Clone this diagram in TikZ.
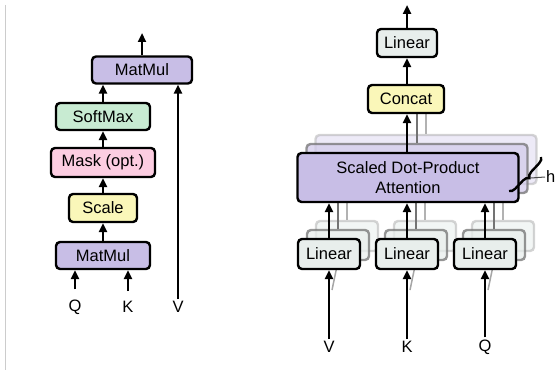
\documentclass[tikz,border=0pt]{standalone}
\usepackage{fontspec}
\setmainfont{Liberation Sans}
\usetikzlibrary{arrows.meta,decorations.pathreplacing}

\definecolor{mmpurple}{RGB}{200,190,230}
\definecolor{smgreen}{RGB}{200,235,210}
\definecolor{mkpink}{RGB}{252,205,225}
\definecolor{scyellow}{RGB}{250,247,185}
\definecolor{lingray}{RGB}{232,238,236}

\tikzset{
	blk/.style={draw, line width=2.4pt, rounded corners=4pt, inner sep=0pt,
		font=\fontsize{16.5}{20}\selectfont, align=center},
	layerb/.style={blk, draw=black!55, opacity=0.75},
	layerc/.style={blk, draw=black!30, opacity=0.55},
	arr/.style={line width=2.4pt, -{Triangle[length=9pt,width=8pt]}},
	lbl/.style={font=\fontsize{16.5}{20}\selectfont, inner sep=2pt},
}

\begin{document}
\begin{tikzpicture}[x=1pt, y=-1pt]
	\useasboundingbox (0,0) rectangle (556,374);
	
	\draw[black!20, line width=1pt] (5,5) -- (5,370);
	
	% scaled dot-product attention
	\node[blk, fill=mmpurple, minimum width=100pt, minimum height=27pt] (mmtop) at (142,70) {MatMul};
	\node[blk, fill=smgreen, minimum width=94pt, minimum height=27pt] (soft) at (103,116.5) {SoftMax};
	\node[blk, fill=mkpink, minimum width=104pt, minimum height=29pt] (mask) at (103,162.5) {Mask (opt.)};
	\node[blk, fill=scyellow, minimum width=68pt, minimum height=28pt] (scale) at (103,208) {Scale};
	\node[blk, fill=mmpurple, minimum width=94pt, minimum height=27pt] (mmbot) at (103,255.5) {MatMul};
	
	\node[lbl] (q) at (75,307) {Q};
	\node[lbl] (k) at (128,307) {K};
	\node[lbl] (v) at (178,307) {V};
	\coordinate (out) at (142,33);
	
	\draw[arr, shorten <=8pt] (q) -- (q |- mmbot.south);
	\draw[arr, shorten <=8pt] (k) -- (k |- mmbot.south);
	\draw[arr] (v) -- (v |- mmtop.south);
	\draw[arr] (mmbot) -- (scale);
	\draw[arr] (scale) -- (mask);
	\draw[arr] (mask) -- (soft);
	\draw[arr] (soft.north) -- (soft.north |- mmtop.south);
	\draw[arr] (mmtop) -- (out);
	
	% multi-head attention: stacked layers behind
	\node[layerc, fill=mmpurple!60!white, minimum width=221pt, minimum height=49pt] (attnC) at (426,159.5) {};
	\node[layerb, fill=mmpurple!80!white, minimum width=221pt, minimum height=49pt] (attnB) at (417,168.5) {};
	\foreach \n/\x in {V/329,K/407,Q/485} {
		\node[layerc, fill=lingray, minimum width=62pt, minimum height=30pt] (lin\n C) at (\x+18,236) {};
		\node[layerb, fill=lingray, minimum width=62pt, minimum height=30pt] (lin\n B) at (\x+9,245) {};
		\draw[black!30, line width=2.4pt] (lin\n C.north) -- (lin\n C.north |- attnC.south);
		\draw[black!55, line width=2.4pt] (lin\n B.north) -- (lin\n B.north |- attnB.south);
		\draw[black!35, line width=1.5pt] (\x+3,290) -- (lin\n B.south);
	}
	\node[lbl] (concat0) at (406,99) {};
	\draw[black!30, arr] (attnC.north) -- (attnC.north |- concat0.south);
	\draw[black!55, arr] (attnB.north) -- (attnB.north |- concat0.south);
	
	% front layer
	\node[blk, fill=mmpurple, minimum width=221pt, minimum height=49pt] (attn) at (408,177.5) {Scaled Dot-Product\\Attention};
	\node[blk, fill=scyellow, minimum width=76pt, minimum height=28pt] (concat) at (406,99) {Concat};
	\node[blk, fill=lingray, minimum width=60pt, minimum height=28pt] (lintop) at (407,43) {Linear};
	\coordinate (mhout) at (407,5);
	
	\foreach \n/\x in {V/329,K/407,Q/485} {
		\node[blk, fill=lingray, minimum width=62pt, minimum height=30pt] (lin\n) at (\x,254) {Linear};
		\node[lbl] (in\n) at (\x,347) {\n};
		\draw[arr] (in\n) -- (lin\n);
		\draw[arr] (lin\n.north) -- (lin\n.north |- attn.south);
	}
	
	\draw[arr] (attn.north -| lintop) -- (concat.south -| lintop);
	\draw[arr] (concat.north -| lintop) -- (lintop.south);
	\draw[arr] (lintop) -- (mhout);
	
	% heads brace
	\draw[line width=2.4pt, decorate, decoration={brace, amplitude=6pt}] (541,157) -- (509,191);
	\node[lbl, anchor=west, inner sep=1pt] (h) at (545,177) {h};
	\coordinate (btip) at (531,178);
	\draw[black!70, line width=1pt] (btip) -- (h.west);
	
\end{tikzpicture}
\end{document}
